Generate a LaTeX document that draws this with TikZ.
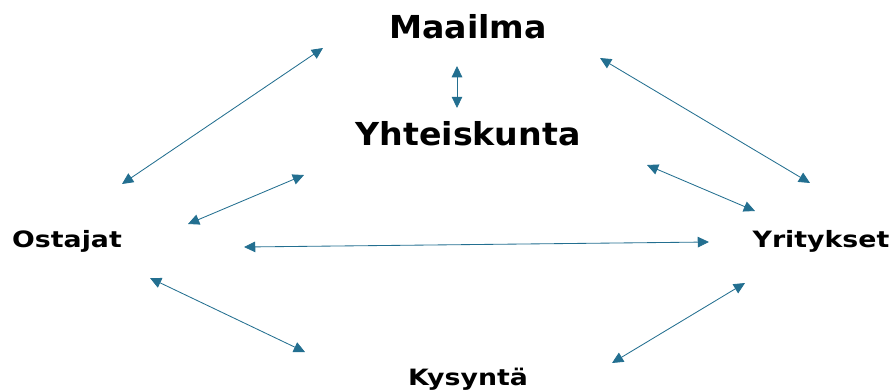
\documentclass[tikz,border=0pt]{standalone}
\usepackage{fontspec}
\setmainfont{DejaVu Sans}
\newfontfamily\bigfont[FakeStretch=1.05]{DejaVu Sans}
\newfontfamily\smallfont[FakeStretch=1.19]{DejaVu Sans}
\usetikzlibrary{positioning, arrows.meta}

\begin{document}
\begin{tikzpicture}[
    x=0.025cm, y=-0.025cm,
    big/.style={
        anchor=base,
        inner sep=0pt,
        font=\bigfont\fontsize{22.5}{27}\selectfont\bfseries
    },
    small/.style={
        anchor=base,
        inner sep=0pt,
        font=\smallfont\fontsize{16}{19}\selectfont\bfseries
    },
    link/.style={
        {Triangle[length=8pt, width=7.5pt]}-{Triangle[length=8pt, width=7.5pt]},
        draw=linkblue,
        line width=0.6pt
    }
]
\definecolor{linkblue}{HTML}{236F90}
\useasboundingbox (0,0) rectangle (893,389);

\node[big] (world) at (468,38) {Maailma};
\node[big] (society) at (468,145) {Yhteiskunta};
\node[small] (buyers) at (67,247) {Ostajat};
\node[small] (firms) at (821,247) {Yritykset};
\node[small] (demand) at (468,385) {Kysyntä};

% arrow ends
\coordinate (wb1) at (323,48);
\coordinate (wb2) at (122,184);
\coordinate (ws1) at (457,66);
\coordinate (ws2) at (457,108);
\coordinate (wf1) at (600,58);
\coordinate (wf2) at (810,183);
\coordinate (sb1) at (304,175);
\coordinate (sb2) at (188,224);
\coordinate (sf1) at (647,165);
\coordinate (sf2) at (755,211);
\coordinate (bf1) at (244,247);
\coordinate (bf2) at (709,242);
\coordinate (bd1) at (150,278);
\coordinate (bd2) at (305,352);
\coordinate (fd1) at (745,283);
\coordinate (fd2) at (612,363);

\draw[link] (wb1) -- (wb2);
\draw[link] (ws1) -- (ws2);
\draw[link] (wf1) -- (wf2);
\draw[link] (sb1) -- (sb2);
\draw[link] (sf1) -- (sf2);
\draw[link] (bf1) -- (bf2);
\draw[link] (bd1) -- (bd2);
\draw[link] (fd1) -- (fd2);

\end{tikzpicture}
\end{document}
